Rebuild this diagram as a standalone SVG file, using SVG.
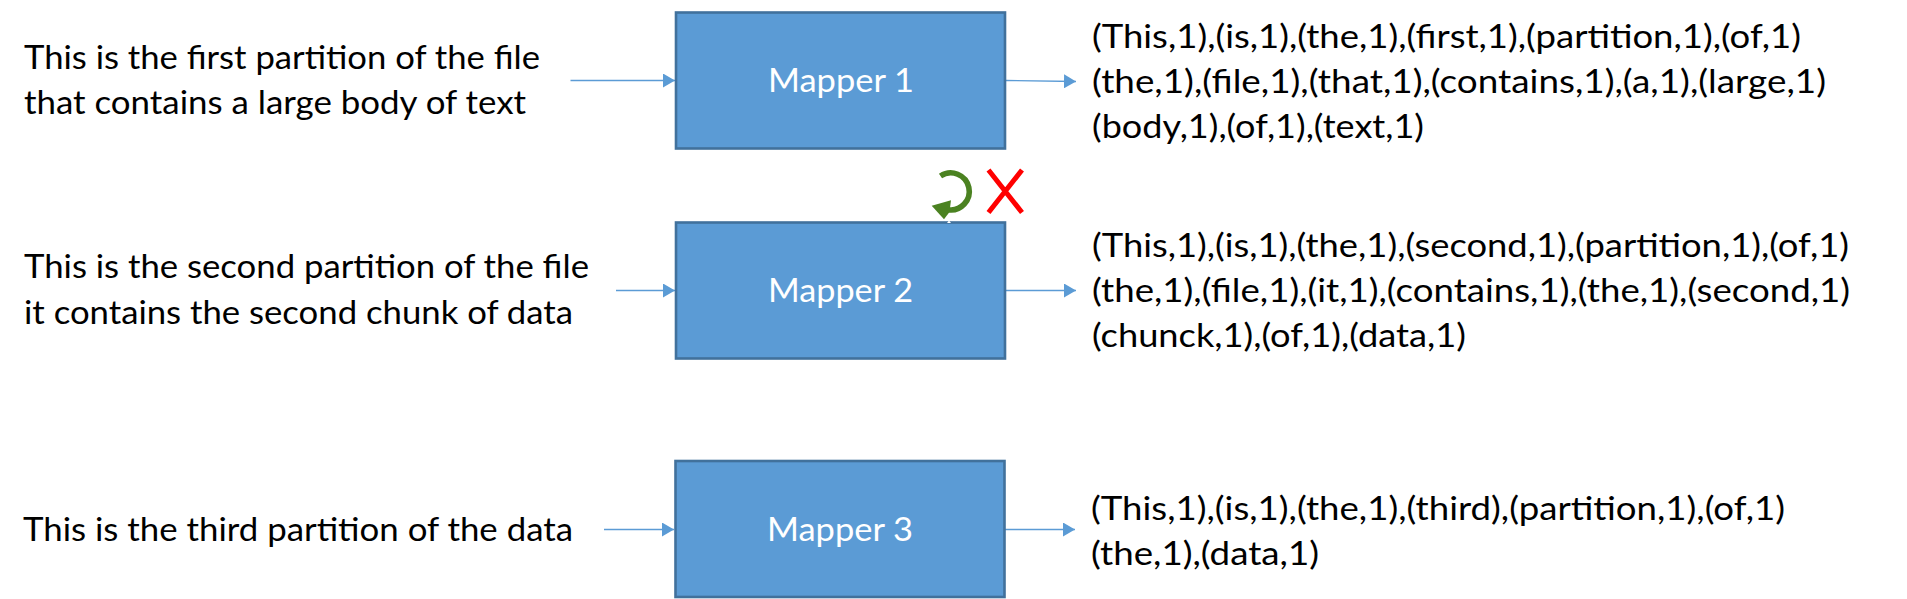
<svg xmlns="http://www.w3.org/2000/svg" width="1907" height="599" viewBox="0 0 1907 599">
<style>
text{font-family:"Lato","Liberation Sans",sans-serif;font-size:33.5px;fill:#000}
.m{fill:#fff}
.box{fill:#5B9BD5;stroke:#41719C;stroke-width:2.6}
.c{stroke:#5B9BD5;stroke-width:1.4;fill:none;marker-end:url(#a)}
</style>
<defs><marker id="a" markerUnits="userSpaceOnUse" markerWidth="12" markerHeight="14" refX="12" refY="7" orient="auto"><path d="M0 0L12 7L0 14Z" fill="#5B9BD5"/></marker></defs>
<rect width="1907" height="599" fill="#fff"/>
<g id="connectors">
<path class="c" d="M570.5 80.5H675"/>
<path class="c" d="M1006 80.5L1076 81.5"/>
<path class="c" d="M616 290.5H675"/>
<path class="c" d="M1006 290.5H1076"/>
<path class="c" d="M604 529.5H674"/>
<path class="c" d="M1005 529.5H1075"/>
</g>
<g id="input1"><text x="24" y="68.500" textLength="516" lengthAdjust="spacingAndGlyphs">This is the first partition of the file</text><text x="24" y="113.500" textLength="502" lengthAdjust="spacingAndGlyphs">that contains a large body of text</text></g>
<g id="input2"><text x="24" y="277.500" textLength="565" lengthAdjust="spacingAndGlyphs">This is the second partition of the file</text><text x="24" y="323.500" textLength="549" lengthAdjust="spacingAndGlyphs">it contains the second chunk of data</text></g>
<g id="input3"><text x="23" y="540.500" textLength="550" lengthAdjust="spacingAndGlyphs">This is the third partition of the data</text></g>
<g id="mapper1"><rect class="box" x="676" y="12.5" width="329" height="136"/><text class="m" x="768" y="92" textLength="146" lengthAdjust="spacingAndGlyphs">Mapper 1</text></g>
<g id="mapper2"><rect class="box" x="676" y="222.5" width="329" height="136"/><text class="m" x="768" y="302" textLength="145" lengthAdjust="spacingAndGlyphs">Mapper 2</text></g>
<g id="mapper3"><rect class="box" x="675.500" y="461" width="329" height="136"/><text class="m" x="767" y="541" textLength="146" lengthAdjust="spacingAndGlyphs">Mapper 3</text></g>
<g id="output1"><text x="1092" y="48" textLength="709" lengthAdjust="spacingAndGlyphs">(This,1),(is,1),(the,1),(first,1),(partition,1),(of,1)</text><text x="1092" y="93" textLength="734" lengthAdjust="spacingAndGlyphs">(the,1),(file,1),(that,1),(contains,1),(a,1),(large,1)</text><text x="1092" y="138" textLength="332" lengthAdjust="spacingAndGlyphs">(body,1),(of,1),(text,1)</text></g>
<g id="output2"><text x="1092" y="257" textLength="757" lengthAdjust="spacingAndGlyphs">(This,1),(is,1),(the,1),(second,1),(partition,1),(of,1)</text><text x="1092" y="302" textLength="758" lengthAdjust="spacingAndGlyphs">(the,1),(file,1),(it,1),(contains,1),(the,1),(second,1)</text><text x="1092" y="347" textLength="374" lengthAdjust="spacingAndGlyphs">(chunck,1),(of,1),(data,1)</text></g>
<g id="output3"><text x="1091" y="520" textLength="694" lengthAdjust="spacingAndGlyphs">(This,1),(is,1),(the,1),(third),(partition,1),(of,1)</text><text x="1091" y="565" textLength="228" lengthAdjust="spacingAndGlyphs">(the,1),(data,1)</text></g>
<g id="retry"><path d="M940.500 176A18.500 18.500 0 1 1 948 209.700" fill="none" stroke="#4B8221" stroke-width="5.600"/><path d="M931.700 205.700L951 200.300L949.500 212L944 219.300Z" fill="#4B8221"/><path d="M947 223L949 220.500L951 223Z" fill="#fff"/></g>
<g id="cross"><path d="M988.500 170L1022 212.500M1022 170L988.500 212.500" fill="none" stroke="#FF0000" stroke-width="5"/></g>
</svg>
